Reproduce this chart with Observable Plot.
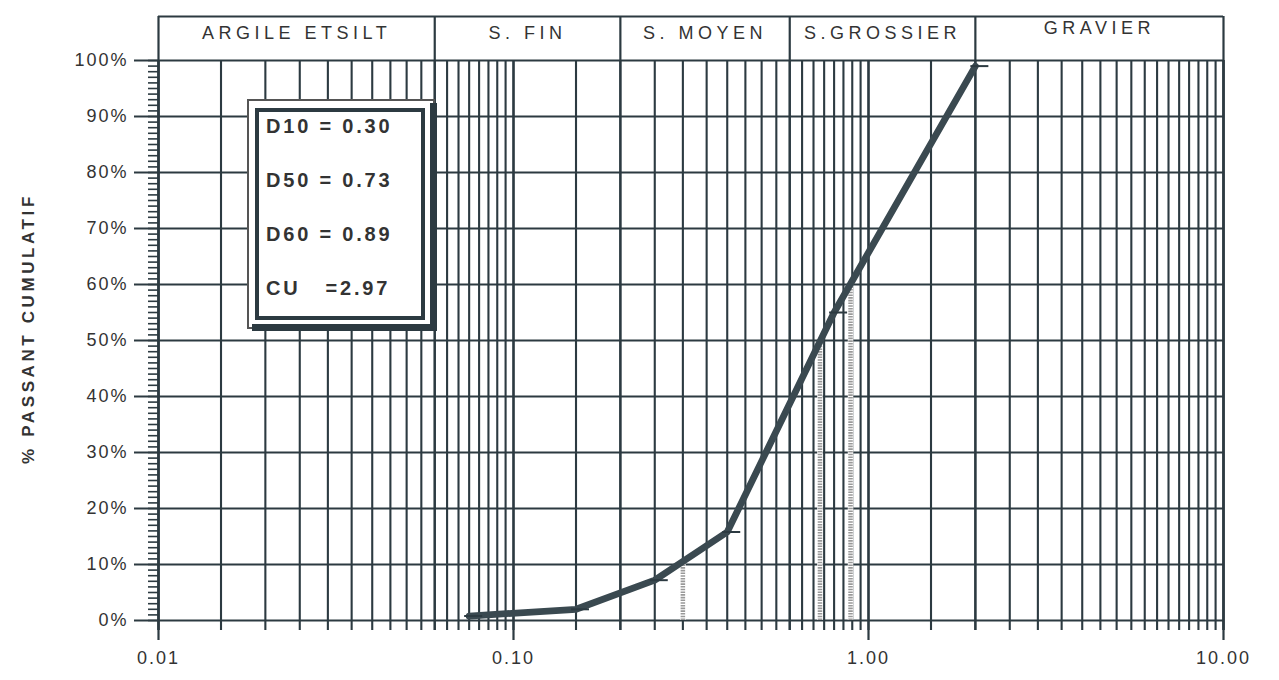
<!DOCTYPE html>
<html>
<head>
<meta charset="utf-8">
<script src="https://cdn.jsdelivr.net/npm/d3@7"></script>
<script src="https://cdn.jsdelivr.net/npm/@observablehq/plot@0.6"></script>
<style>
  html, body { margin: 0; padding: 0; background: #ffffff; }
  #chart svg { display: block; }
</style>
</head>
<body>
<div id="chart"></div>
<script>
// ---- data ----
const sieveSizes = [0.075, 0.15, 0.25, 0.4, 0.8, 2.0];      // mm
const passingPct = [0.8, 2.0, 7.2, 15.8, 55, 99];          // % passant cumulatif

const dLabels = ["D10", "D50", "D60"];
const dSizes = [0.30, 0.73, 0.89];
const dPercents = [10, 50, 60];
const cuLabel = "CU";
const cuValue = "2.97";

const sectionNames = ["ARGILE ETSILT", "S. FIN", "S. MOYEN", "S.GROSSIER", "GRAVIER"];
const sectionBounds = [0.01, 0.06, 0.2, 0.6, 2, 10];

const decades = [0.01, 0.1, 1];
const gridSteps = [1, 1.5, 2, 2.5, 3, 3.5, 4, 4.5, 5, 5.5, 6, 6.5, 7, 7.5, 8, 8.5, 9, 9.5];
const xTickValues = [0.01, 0.1, 1, 10];
const xTickLabels = ["0.01", "0.10", "1.00", "10.00"];
const yTickValues = [0, 10, 20, 30, 40, 50, 60, 70, 80, 90, 100];
const yTickLabels = ["0%", "10%", "20%", "30%", "40%", "50%", "60%", "70%", "80%", "90%", "100%"];
const yMinorStep = 1;
const yTitle = "% PASSANT CUMULATIF";

// ---- derived tables ----
const curve = sieveSizes.map((d, i) => ({size: d, pct: passingPct[i]}));
const dRows = dSizes.map((d, i) => ({label: dLabels[i], size: d, pct: dPercents[i]}));
const gridX = decades.flatMap(dec => gridSteps.map(s => +(dec * s).toPrecision(4))).concat([10]);
const yMinor = d3.range(0, 100 + yMinorStep / 2, yMinorStep);
const sections = sectionNames.map((n, i) => ({
  name: n,
  mid: Math.sqrt(sectionBounds[i] * sectionBounds[i + 1])
}));

const ink = "#2c3a41";
const textInk = "#333";
const font = "'Liberation Sans', Arial, Helvetica, sans-serif";

// horizontal dash symbol for measured points
const dashSymbol = {
  draw(ctx, size) {
    const r = Math.sqrt(size / Math.PI);
    ctx.moveTo(-r * 0.5, 0);
    ctx.lineTo(r * 1.3, 0);
  }
};

const headerH = 44;

const plot = Plot.plot({
  width: 1279,
  height: 680,
  marginLeft: 158,
  marginRight: 56,
  marginTop: 60,
  marginBottom: 60,
  style: {fontFamily: font, background: "#ffffff", overflow: "visible"},
  x: {type: "log", domain: [0.01, 10], axis: null},
  y: {domain: [0, 100], axis: null},
  marks: [
    // vertical grid
    Plot.ruleX(gridX, {stroke: ink, strokeWidth: 2.1, insetBottom: -10}),
    // decade ticks (longer)
    Plot.ruleX(xTickValues, {stroke: ink, strokeWidth: 2.2, insetBottom: -20}),
    // header dividers and frame sides
    Plot.ruleX(sectionBounds, {stroke: ink, strokeWidth: 2.2, insetTop: -headerH, insetBottom: -10}),
    // horizontal grid + major y ticks
    Plot.ruleY(yTickValues, {stroke: ink, strokeWidth: 2, insetLeft: -24}),
    // header top line
    Plot.ruleY([100], {stroke: ink, strokeWidth: 2.2, dy: -headerH}),
    // minor y ticks
    Plot.ruleY(yMinor, {x1: 0.01, x2: 0.01, insetLeft: -10, stroke: ink, strokeWidth: 1.6}),
    // header labels
    Plot.text(sections, {x: "mid", y: 100, dy: -27, text: "name", fontSize: 18, fill: textInk}),
    // dotted D lines
    Plot.ruleX(dRows, {x: "size", y1: 0, y2: "pct", stroke: "#ffffff", strokeWidth: 5.5}),
    Plot.ruleX(dRows, {x: "size", y1: 0, y2: "pct", stroke: "#999999", strokeWidth: 4.5, strokeDasharray: "1.6 1.1"}),
    // grading curve
    Plot.line(curve, {x: "size", y: "pct", stroke: "#3a4950", strokeWidth: 6.8, strokeLinejoin: "round"}),
    Plot.dot(curve, {x: "size", y: "pct", symbol: dashSymbol, r: 10, fill: "none", stroke: ink, strokeWidth: 2}),
    // y tick labels
    Plot.text(yTickValues, {x: 0.01, y: d => d, text: (d, i) => yTickLabels[i], dx: -30, textAnchor: "end", fontSize: 18, fill: textInk}),
    // x tick labels
    Plot.text(xTickValues, {x: d => d, y: 0, text: (d, i) => xTickLabels[i], dy: 38, fontSize: 18, fill: textInk}),
    // y title
    Plot.text([yTitle], {frameAnchor: "left", textAnchor: "middle", dx: -130, dy: -12, rotate: -90, text: d => d, fontSize: 17, fontWeight: "bold", fill: textInk})
  ]
});

document.getElementById("chart").appendChild(plot);

// letter spacing per text group
const svg = d3.select(plot);
svg.selectAll("text").style("letter-spacing", "2px");
// header labels wider spacing, GRAVIER slightly higher
svg.selectAll("text").filter(function() { return sectionNames.includes(this.textContent); })
  .style("letter-spacing", "4.5px")
  .attr("transform", function() {
    const t = d3.select(this).attr("transform") || "";
    return this.textContent === "GRAVIER" ? t + " translate(0,-5)" : t;
  });
svg.selectAll("text").filter(function() { return this.textContent === yTitle; })
  .style("letter-spacing", "3.6px");

// statistics box
const box = svg.append("g");
box.append("rect").attr("x", 248).attr("y", 100).attr("width", 186).attr("height", 228)
  .attr("fill", "#ffffff").attr("stroke", "#555").attr("stroke-width", 2);
box.append("rect").attr("x", 430).attr("y", 103).attr("width", 7).attr("height", 228).attr("fill", ink);
box.append("rect").attr("x", 252).attr("y", 324).attr("width", 185).attr("height", 7).attr("fill", ink);
box.append("rect").attr("x", 257).attr("y", 110).attr("width", 166).attr("height", 208)
  .attr("fill", "none").attr("stroke", ink).attr("stroke-width", 4);
const boxLines = dRows.map(d => `${d.label} = ${d.size.toFixed(2)}`).concat([`${cuLabel}   =${cuValue}`]);
const boxY = [126, 180, 234, 288];
boxLines.forEach((s, i) => {
  box.append("text").attr("x", 266).attr("y", boxY[i]).attr("dy", "0.35em")
    .attr("text-anchor", "start")
    .attr("font-family", font).attr("font-size", 20).attr("font-weight", "bold")
    .attr("fill", textInk).style("letter-spacing", "2.8px").style("white-space", "pre")
    .text(s);
});
</script>
</body>
</html>
